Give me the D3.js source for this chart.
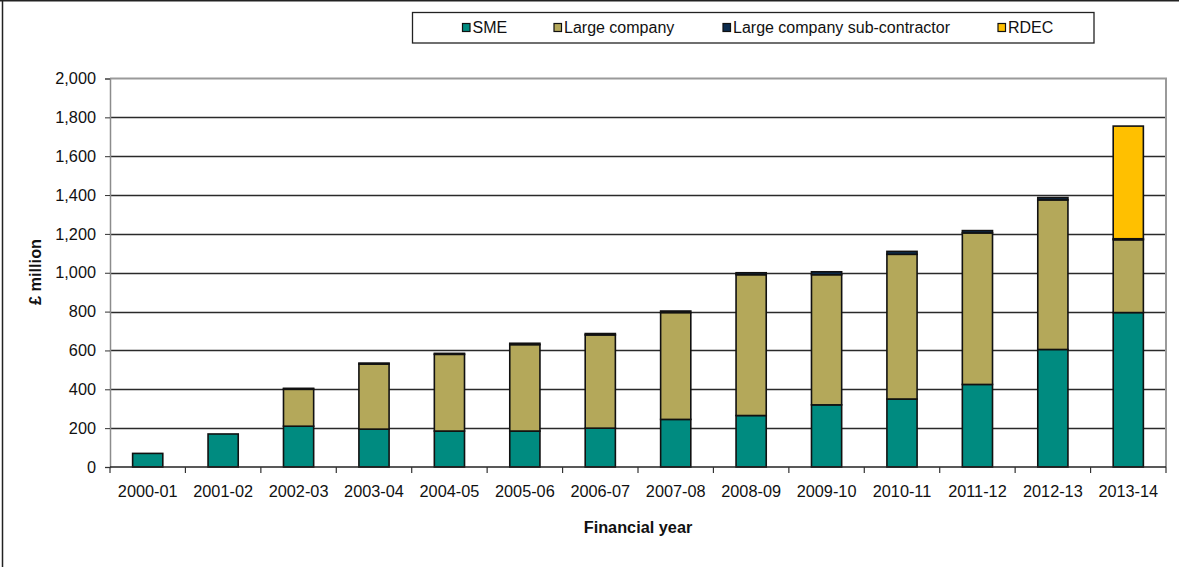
<!DOCTYPE html>
<html>
<head>
<meta charset="utf-8">
<script src="https://cdn.jsdelivr.net/npm/d3@7"></script>
<style>
  html, body { margin: 0; padding: 0; background: #fff; }
  svg { display: block; font-family: "Liberation Sans", Arial, sans-serif; }
</style>
</head>
<body>
<svg id="chart" width="1182" height="567"></svg>
<script>
// Financial years on the x axis
const years = ["2000-01","2001-02","2002-03","2003-04","2004-05","2005-06","2006-07",
               "2007-08","2008-09","2009-10","2010-11","2011-12","2012-13","2013-14"];

// Values in £ million for each scheme
const sme        = [70, 170, 210, 195, 185, 185, 200, 245, 265, 320, 350, 425, 605, 795];
const large      = [0, 0, 190, 335, 395, 445, 480, 550, 725, 670, 745, 780, 770, 375];
const subcontr   = [0, 0, 5, 5, 5, 7, 7, 8, 10, 15, 15, 12, 12, 5];
const rdec       = [0, 0, 0, 0, 0, 0, 0, 0, 0, 0, 0, 0, 0, 580];

// Series names and y tick values
const seriesNames = ["SME", "Large company", "Large company sub-contractor", "RDEC"];
const yTicks = [0, 200, 400, 600, 800, 1000, 1200, 1400, 1600, 1800, 2000];

const colors = {
  "SME": "#008b80",
  "Large company": "#b4a85a",
  "Large company sub-contractor": "#0c2c4e",
  "RDEC": "#ffc000"
};

const rows = years.map((y, i) => ({
  year: y,
  "SME": sme[i],
  "Large company": large[i],
  "Large company sub-contractor": subcontr[i],
  "RDEC": rdec[i]
}));

const svg = d3.select("#chart");
const plotLeft = 110, plotRight = 1166, plotTop = 78.5, plotBottom = 467;

const x = d3.scaleBand().domain(years).range([plotLeft, plotRight])
  .paddingInner(0.6).paddingOuter(0.3);
const y = d3.scaleLinear().domain([0, 2000]).range([plotBottom, plotTop]);

// outer frame (left and top edges)
svg.append("line").attr("x1", 2.5).attr("x2", 2.5).attr("y1", 0).attr("y2", 567)
  .attr("stroke", "#222").attr("stroke-width", 1.5);
svg.append("line").attr("x1", 0).attr("x2", 1179).attr("y1", 0.75).attr("y2", 0.75)
  .attr("stroke", "#222").attr("stroke-width", 1.5);

// horizontal gridlines
svg.append("g").selectAll("line").data(yTicks.filter(t => t > 0 && t < 2000)).join("line")
  .attr("x1", plotLeft).attr("x2", plotRight)
  .attr("y1", d => Math.round(y(d)) + 0.5).attr("y2", d => Math.round(y(d)) + 0.5)
  .attr("stroke", "#2a2a2a").attr("stroke-width", 1.3);

// plot area border (top and right)
svg.append("path")
  .attr("d", `M${plotLeft},${plotTop}H${plotRight}V${plotBottom}`)
  .attr("fill", "none").attr("stroke", "#9a9a9a").attr("stroke-width", 2);

// stacked bars
const stack = d3.stack().keys(seriesNames);
const layers = stack(rows);

svg.append("g").selectAll("g").data(layers).join("g")
  .attr("fill", d => colors[d.key])
  .selectAll("rect").data(d => d.filter(s => s[1] - s[0] > 0)).join("rect")
  .attr("x", d => x(d.data.year))
  .attr("width", x.bandwidth())
  .attr("y", d => y(d[1]))
  .attr("height", d => y(d[0]) - y(d[1]))
  .attr("stroke", "#111").attr("stroke-width", 1.6);

// y axis
const yAxis = d3.axisLeft(y).tickValues(yTicks).tickSize(5).tickPadding(9)
  .tickFormat(d3.format(","));
const gy = svg.append("g").attr("transform", `translate(${plotLeft},0)`).call(yAxis);
gy.select(".domain").attr("stroke", "#8c8c8c").attr("stroke-width", 1.5);
gy.selectAll(".tick line").attr("stroke", "#333");
gy.selectAll("text").attr("font-size", 16.3).attr("fill", "#111")
  .attr("font-family", "Liberation Sans, Arial, sans-serif");

// x axis baseline and category separator ticks
svg.append("line").attr("x1", plotLeft).attr("x2", plotRight).attr("y1", plotBottom).attr("y2", plotBottom)
  .attr("stroke", "#222").attr("stroke-width", 1.5);
const sepX = d3.range(years.length + 1).map(i => plotLeft + i * (plotRight - plotLeft) / years.length);
svg.append("g").selectAll("line").data(sepX).join("line")
  .attr("x1", d => d).attr("x2", d => d).attr("y1", plotBottom).attr("y2", plotBottom + 6)
  .attr("stroke", "#333").attr("stroke-width", 1.2);

svg.append("g").selectAll("text").data(years).join("text")
  .attr("x", d => x(d) + x.bandwidth() / 2)
  .attr("y", 497)
  .attr("text-anchor", "middle")
  .attr("font-size", 16.3).attr("fill", "#111")
  .text(d => d);

// axis titles
svg.append("text")
  .attr("transform", "translate(41,272) rotate(-90)")
  .attr("text-anchor", "middle")
  .attr("font-size", 16.3).attr("font-weight", "bold").attr("fill", "#111")
  .text("£ million");

svg.append("text")
  .attr("x", 638).attr("y", 533)
  .attr("text-anchor", "middle")
  .attr("font-size", 16.3).attr("font-weight", "bold").attr("fill", "#111")
  .text("Financial year");

// legend
svg.append("rect").attr("x", 412.5).attr("y", 12.5).attr("width", 681.5).attr("height", 30.5)
  .attr("fill", "#fff").attr("stroke", "#222").attr("stroke-width", 1.3);

const legendX = [462.5, 554, 723, 998];
const lg = svg.append("g").selectAll("g").data(seriesNames).join("g")
  .attr("transform", (d, i) => `translate(${legendX[i]},0)`);
lg.append("rect").attr("x", 0).attr("y", 23.5).attr("width", 7.5).attr("height", 8)
  .attr("fill", d => colors[d]).attr("stroke", "#111").attr("stroke-width", 1.2);
lg.append("text").attr("x", 10).attr("y", 33)
  .attr("font-size", 16).attr("fill", "#111")
  .text(d => d);
</script>
</body>
</html>
